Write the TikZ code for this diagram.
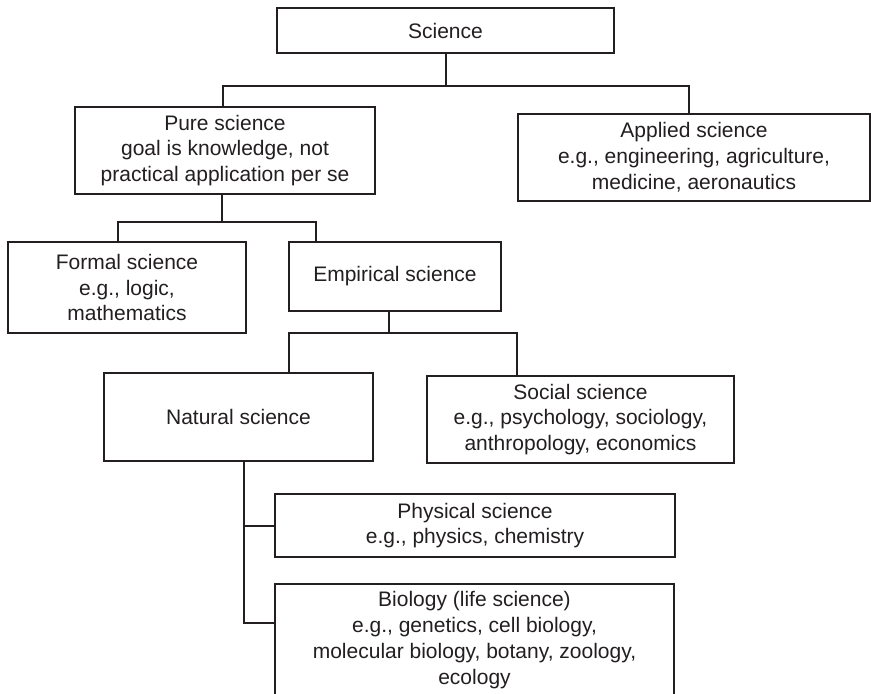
\documentclass[tikz,border=0pt]{standalone}
\usepackage{fontspec}
\setmainfont{Liberation Sans}
\definecolor{ink}{HTML}{231F20}
\begin{document}
\begin{tikzpicture}[x=1pt,y=-1pt,
  box/.style={draw=ink, line width=2pt, fill=white, align=center, inner sep=0pt, text=ink, font=\fontsize{21}{25.8}\selectfont},
  link/.style={draw=ink, line width=2pt}]
\useasboundingbox (0,0) rectangle (871,694);
\clip (0,0) rectangle (871,694);
\node[box, minimum width=337pt, minimum height=45pt] (sci) at (445.5,30.5) {Science};
\node[box, minimum width=300pt, minimum height=87pt] (pure) at (225,150.5) {Pure science\\goal is knowledge, not\\practical application per se};
\node[box, minimum width=352pt, minimum height=87pt] (applied) at (694,157.5) {Applied science\\e.g., engineering, agriculture,\\medicine, aeronautics};
\node[box, minimum width=238pt, minimum height=91pt] (formal) at (127,287.5) {Formal science\\e.g., logic,\\mathematics};
\node[box, minimum width=212pt, minimum height=69pt] (emp) at (395,276.5) {Empirical science};
\node[box, minimum width=269pt, minimum height=88pt] (nat) at (238.5,417) {Natural science};
\node[box, minimum width=307pt, minimum height=87pt] (soc) at (580.5,419.5) {Social science\\e.g., psychology, sociology,\\anthropology, economics};
\node[box, minimum width=400pt, minimum height=63pt] (phys) at (475,525.5) {Physical science\\e.g., physics, chemistry};
\node[box, minimum width=399pt, minimum height=112pt] (bio) at (474.5,640) {Biology (life science)\\e.g., genetics, cell biology,\\molecular biology, botany, zoology,\\ecology};
% bus levels
\coordinate (b1) at (0,86);
\coordinate (b2) at (0,222);
\coordinate (b3) at (0,333);
% Science -> Pure / Applied
\coordinate (pureTop) at ([xshift=-2pt]pure.north);
\coordinate (applTop) at ([xshift=-5pt]applied.north);
\draw[link] (sci.south) -- (sci.south |- b1);
\draw[link] (pureTop) |- (applTop |- b1) -- (applTop);
% Pure -> Formal / Empirical
\coordinate (pureBot) at ([xshift=-3pt]pure.south);
\coordinate (formTop) at ([xshift=-9pt]formal.north);
\coordinate (empTop) at ([xshift=-79pt]emp.north);
\draw[link] (pureBot) -- (pureBot |- b2);
\draw[link] (formTop) |- (empTop |- b2) -- (empTop);
% Empirical -> Natural / Social
\coordinate (empBot) at ([xshift=-6pt]emp.south);
\coordinate (natTop) at ([xshift=50.5pt]nat.north);
\coordinate (socTop) at ([xshift=-63.5pt]soc.north);
\draw[link] (empBot) -- (empBot |- b3);
\draw[link] (natTop) |- (socTop |- b3) -- (socTop);
% Natural -> Physical / Biology
\coordinate (natBot) at ([xshift=5.5pt]nat.south);
\coordinate (bioLeft) at ([yshift=17pt]bio.west);
\draw[link] (natBot) |- (bioLeft);
\draw[link] (natBot |- phys.west) -- (phys.west);
\end{tikzpicture}
\end{document}
